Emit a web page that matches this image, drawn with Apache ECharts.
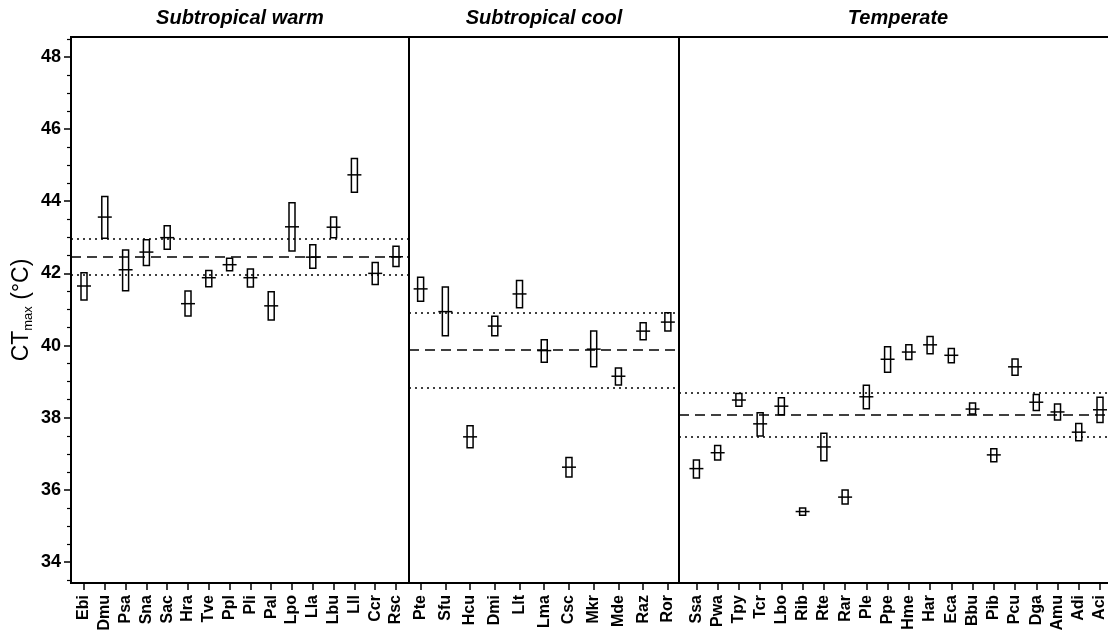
<!DOCTYPE html>
<html>
<head>
<meta charset="utf-8">
<script src="https://cdn.jsdelivr.net/npm/echarts@6/dist/echarts.min.js"></script>
<style>
html,body{margin:0;padding:0;background:#fff;}
#chart{width:1108px;height:637px;}
</style>
</head>
<body>
<div id="chart"></div>
<script>
// ---- data ----
const panelTitles = ['Subtropical warm', 'Subtropical cool', 'Temperate'];

const warmCats = ['Ebi','Dmu','Psa','Sna','Sac','Hra','Tve','Ppl','Pli','Pal','Lpo','Lla','Lbu','Lll','Ccr','Rsc'];
const warmMean = [41.65,43.56,42.10,42.59,42.99,41.16,41.88,42.24,41.88,41.10,43.29,42.45,43.28,44.73,42.00,42.46];
const warmLow  = [41.26,42.97,41.52,42.22,42.67,40.82,41.63,42.07,41.62,40.71,42.62,42.14,42.99,44.25,41.69,42.19];
const warmHigh = [42.02,44.13,42.65,42.93,43.32,41.51,42.08,42.42,42.12,41.49,43.96,42.79,43.56,45.18,42.30,42.75];
const warmRef  = [42.96, 42.46, 41.96];

const coolCats = ['Pte','Sfu','Hcu','Dmi','Llt','Lma','Csc','Mkr','Mde','Raz','Ror'];
const coolMean = [41.57,40.94,37.47,40.54,41.43,39.86,36.63,39.90,39.15,40.40,40.65];
const coolLow  = [41.23,40.27,37.17,40.27,41.05,39.54,36.36,39.41,38.91,40.16,40.40];
const coolHigh = [41.89,41.62,37.78,40.81,41.80,40.16,36.90,40.40,39.38,40.63,40.91];
const coolRef  = [40.92, 39.87, 38.82];

const tempCats = ['Ssa','Pwa','Tpy','Tcr','Lbo','Rib','Rte','Rar','Ple','Ppe','Hme','Har','Eca','Bbu','Pib','Pcu','Dga','Amu','Adi','Aci'];
const tempMean = [36.59,37.03,38.49,37.83,38.32,35.40,37.19,35.80,38.58,39.62,39.82,40.02,39.73,38.24,36.97,39.41,38.43,38.16,37.60,38.22];
const tempLow  = [36.33,36.83,38.32,37.49,38.08,35.30,36.81,35.61,38.25,39.26,39.61,39.77,39.52,38.10,36.78,39.18,38.20,37.94,37.36,37.87];
const tempHigh = [36.83,37.23,38.67,38.14,38.55,35.50,37.57,36.00,38.90,39.97,40.02,40.25,39.92,38.41,37.14,39.63,38.64,38.38,37.84,38.57];
const tempRef  = [38.68, 38.07, 37.47];

const yTicks = [34, 36, 38, 40, 42, 44, 46, 48];
const yMinorTicks = [33.5,34.5,35,35.5,36.5,37,37.5,38.5,39,39.5,40.5,41,41.5,42.5,43,43.5,44.5,45,45.5,46.5,47,47.5,48.5];
const yMin = 33.42, yMax = 48.55;

// ---- layout ----
const FONT = 'Liberation Sans, Arial, sans-serif';
const panels = [
  {cats: warmCats, mean: warmMean, low: warmLow, high: warmHigh, ref: warmRef, left: 71,  width: 338, xmin: -0.625, xmax: 15.625},
  {cats: coolCats, mean: coolMean, low: coolLow, high: coolHigh, ref: coolRef, left: 409, width: 270, xmin: -0.47,  xmax: 10.45},
  {cats: tempCats, mean: tempMean, low: tempLow, high: tempHigh, ref: tempRef, left: 679, width: 438, xmin: -0.82,  xmax: 19.8}
];
const TOP = 37, HEIGHT = 546;

const grid = [], xAxis = [], yAxis = [], series = [], graphic = [];

panels.forEach((p, k) => {
  grid.push({left: p.left, top: TOP, width: p.width, height: HEIGHT, show: true,
             outerBoundsMode: 'none', containLabel: false,
             borderColor: '#000', borderWidth: 2, backgroundColor: 'transparent'});
  const idx = p.cats.map((c, i) => i);
  xAxis.push({
    type: 'value', gridIndex: k, min: p.xmin, max: p.xmax,
    splitLine: {show: false},
    axisLine: {show: false, onZero: false},
    axisTick: {show: true, customValues: idx, length: 7, lineStyle: {color: '#000', width: 1.5}},
    axisLabel: {show: true, customValues: idx, rotate: 90, margin: 12,
      formatter: v => p.cats[Math.round(v)] || '',
      color: '#000', fontWeight: 'bold', fontSize: 16, fontFamily: FONT}
  });
  if (k === 0) {
    yAxis.push({
      type: 'value', gridIndex: 0, min: yMin, max: yMax, position: 'left',
      splitLine: {show: false},
      axisLine: {show: true, onZero: false, lineStyle: {color: '#000', width: 2}},
      axisTick: {show: true, customValues: yTicks, length: 7, lineStyle: {color: '#000', width: 1.5}},
      axisLabel: {show: true, customValues: yTicks, margin: 10, color: '#000',
        fontWeight: 'bold', fontSize: 18, fontFamily: FONT},
      name: '{a|CT}{b|max}{a| (°C)}', nameLocation: 'middle', nameRotate: 90, nameGap: 36,
      nameTextStyle: {
        color: '#000', fontFamily: FONT,
        rich: {
          a: {fontSize: 23, color: '#000', fontFamily: FONT, lineHeight: 26, verticalAlign: 'middle'},
          b: {fontSize: 13, color: '#000', fontFamily: FONT, lineHeight: 26, verticalAlign: 'bottom', padding: [10, 0, 0, 0]}
        }
      }
    });
    yAxis.push({
      type: 'value', gridIndex: 0, min: yMin, max: yMax, position: 'left',
      splitLine: {show: false}, axisLine: {show: false, onZero: false}, axisLabel: {show: false},
      axisTick: {show: true, customValues: yMinorTicks, length: 4, lineStyle: {color: '#000', width: 1.2}}
    });
  } else {
    yAxis.push({type: 'value', gridIndex: k, min: yMin, max: yMax, show: false});
  }
  const yIdx = k === 0 ? 0 : k + 1;
  const data = p.cats.map((c, i) => [i, p.low[i], p.mean[i], p.high[i]]);
  series.push({
    type: 'custom', xAxisIndex: k, yAxisIndex: yIdx, data: data,
    renderItem: (params, api) => {
      const x = api.value(0);
      const lo = api.coord([x, api.value(1)]);
      const mid = api.coord([x, api.value(2)]);
      const hi = api.coord([x, api.value(3)]);
      return {type: 'group', children: [
        {type: 'rect', shape: {x: lo[0] - 3, y: hi[1], width: 6, height: lo[1] - hi[1]},
         style: {fill: 'none', stroke: '#000', lineWidth: 1.5}},
        {type: 'line', shape: {x1: mid[0] - 7, y1: mid[1], x2: mid[0] + 7, y2: mid[1]},
         style: {stroke: '#000', lineWidth: 1.5}}
      ]};
    },
    markLine: {
      silent: true, symbol: ['none', 'none'], label: {show: false}, animation: false,
      data: [
        {yAxis: p.ref[0], lineStyle: {color: '#000', width: 1.5, type: [2, 4]}},
        {yAxis: p.ref[1], lineStyle: {color: '#000', width: 1.5, type: [10, 6]}},
        {yAxis: p.ref[2], lineStyle: {color: '#000', width: 1.5, type: [2, 4]}}
      ]
    }
  });
  graphic.push({
    type: 'text', x: p.left + p.width / 2, y: 18,
    style: {text: panelTitles[k], fill: '#000', font: 'italic bold 20px ' + FONT,
            align: 'center', verticalAlign: 'middle', textAlign: 'center', textVerticalAlign: 'middle'}
  });
});

const chart = echarts.init(document.getElementById('chart'), null, {renderer: 'canvas'});
chart.setOption({
  animation: false,
  backgroundColor: '#fff',
  grid, xAxis, yAxis, series, graphic
});
</script>
</body>
</html>
